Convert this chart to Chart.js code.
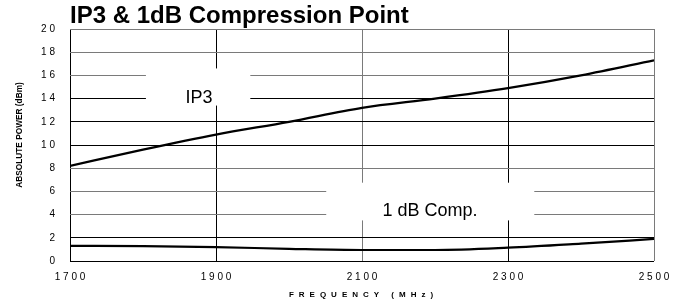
<!DOCTYPE html>
<html>
<head>
<meta charset="utf-8">
<script src="https://cdn.jsdelivr.net/npm/chart.js@4/dist/chart.umd.min.js"></script>
<style>
html,body{margin:0;padding:0;background:#fff;}
#wrap{width:684px;height:305px;position:relative;}
</style>
</head>
<body>
<div id="wrap"><canvas id="c" width="684" height="305"></canvas></div>
<script>
// ---- data ----
const frequencies = [1700, 1800, 1900, 2000, 2100, 2200, 2300, 2400, 2500];
const ip3Values   = [8.2, 9.6, 10.9, 12.0, 13.2, 14.0, 14.9, 16.0, 17.3];
const compValues  = [1.3, 1.28, 1.2, 1.05, 0.95, 0.95, 1.15, 1.5, 1.9];
const xTickValues = [1700, 1900, 2100, 2300, 2500];
const yTickValues = [0, 2, 4, 6, 8, 10, 12, 14, 16, 18, 20];
const chartTitle  = 'IP3 & 1dB Compression Point';
const xTitle      = 'FREQUENCY (MHz)';
const yTitle      = 'ABSOLUTE POWER (dBm)';
const seriesNames = ['IP3', '1 dB Comp.'];

const FONT = '"Liberation Sans", Arial, Helvetica, sans-serif';
const spaced = v => String(v).split('').join(' ');

const darkH = [0, 2, 10, 12, 14];
const darkV = [1700, 1900, 2300];

// label boxes (in data units) that blank the grid behind the series names
const labelBoxes = [
  {x0: 1804, x1: 1947, y0: 13.4, y1: 16.6},
  {x0: 2051, x1: 2336, y0: 3.5,  y1: 6.75}
];

function drawSpacedText(ctx, text, cx, cy, spacing) {
  const chars = text.split('');
  const widths = chars.map(ch => ctx.measureText(ch).width);
  const total = widths.reduce((a, b) => a + b, 0) + spacing * (chars.length - 1);
  let x = cx - total / 2;
  ctx.textAlign = 'left';
  chars.forEach((ch, i) => { ctx.fillText(ch, x, cy); x += widths[i] + spacing; });
}

const boxesPlugin = {
  id: 'boxes',
  beforeDatasetsDraw(chart) {
    const {ctx, scales: {x, y}} = chart;
    ctx.save();
    labelBoxes.forEach(b => {
      const px0 = x.getPixelForValue(b.x0), px1 = x.getPixelForValue(b.x1);
      const py0 = y.getPixelForValue(b.y1), py1 = y.getPixelForValue(b.y0);
      ctx.fillStyle = '#fff';
      ctx.fillRect(px0, py0, px1 - px0, py1 - py0);
    });
    ctx.restore();
  },
  afterDraw(chart) {
    const {ctx, chartArea} = chart;
    ctx.save();
    ctx.fillStyle = '#000';
    // series name labels
    ctx.font = '18px ' + FONT;
    ctx.textBaseline = 'middle';
    ctx.textAlign = 'center';
    ctx.fillText(seriesNames[0], 199, 98);
    ctx.fillText(seriesNames[1], 430, 211);
    // chart title
    ctx.font = 'bold 24px ' + FONT;
    ctx.textAlign = 'left';
    ctx.textBaseline = 'alphabetic';
    ctx.fillText(chartTitle, chartArea.left, 23);
    // x title (letter spaced)
    ctx.font = 'bold 8px ' + FONT;
    ctx.textBaseline = 'middle';
    drawSpacedText(ctx, xTitle, 361, 295, 5);
    // y title
    ctx.textAlign = 'center';
    ctx.translate(20, 135);
    ctx.rotate(-Math.PI / 2);
    ctx.font = 'bold 8.3px ' + FONT;
    ctx.fillText(yTitle, 0, 0);
    ctx.restore();
  }
};

new Chart(document.getElementById('c'), {
  type: 'line',
  data: {
    datasets: [
      {label: seriesNames[0], data: frequencies.map((f, i) => ({x: f, y: ip3Values[i]})),
       borderColor: '#000', borderWidth: 2.2, pointRadius: 0, fill: false, cubicInterpolationMode: 'monotone'},
      {label: seriesNames[1], data: frequencies.map((f, i) => ({x: f, y: compValues[i]})),
       borderColor: '#000', borderWidth: 2.2, pointRadius: 0, fill: false, cubicInterpolationMode: 'monotone'}
    ]
  },
  options: {
    responsive: false,
    devicePixelRatio: 1,
    animation: false,
    layout: {padding: {top: 29, right: 30, bottom: 0, left: 0}},
    plugins: {legend: {display: false}, title: {display: false}, tooltip: {enabled: false}},
    scales: {
      x: {
        type: 'linear', min: 1700, max: 2500,
        afterBuildTicks: s => { s.ticks = xTickValues.map(v => ({value: v})); },
        afterFit: s => { s.height = 44; },
        border: {display: false},
        grid: {drawTicks: false, lineWidth: 1,
               color: c => darkV.includes(c.tick && c.tick.value) ? '#000' : '#7a7a7a'},
        ticks: {padding: 10, color: '#000', font: {family: FONT, size: 10},
                maxRotation: 0, autoSkip: false, callback: v => spaced(v)}
      },
      y: {
        min: 0, max: 20,
        afterBuildTicks: s => { s.ticks = yTickValues.map(v => ({value: v})); },
        afterFit: s => { s.width = 70; },
        border: {display: false},
        grid: {drawTicks: false, lineWidth: 1,
               color: c => darkH.includes(c.tick && c.tick.value) ? '#000' : '#7a7a7a'},
        ticks: {padding: 15, color: '#000', font: {family: FONT, size: 10},
                callback: v => spaced(v)}
      }
    }
  },
  plugins: [boxesPlugin]
});
</script>
</body>
</html>
